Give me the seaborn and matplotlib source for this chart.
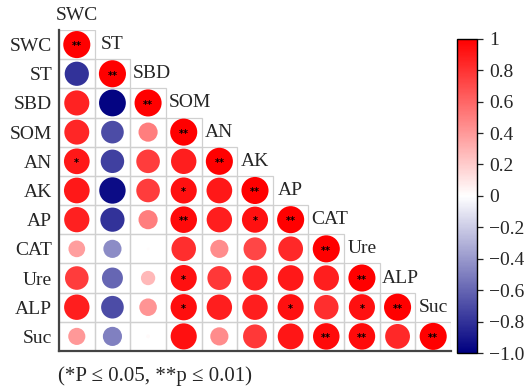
import numpy as np
import pandas as pd
import matplotlib
matplotlib.use("Agg")
import matplotlib.pyplot as plt
from matplotlib.colors import LinearSegmentedColormap, Normalize
from matplotlib.cm import ScalarMappable
from matplotlib.patches import Rectangle
import seaborn as sns

# Soil properties and enzyme activities
variables = ["SWC", "ST", "SBD", "SOM", "AN", "AK", "AP", "CAT", "Ure", "ALP", "Suc"]

# Lower-triangle correlation coefficients (row i holds columns 0..i)
r_SWC = [1.00]
r_ST = [-0.80, 1.00]
r_SBD = [0.86, -0.98, 1.00]
r_SOM = [0.85, -0.70, 0.50, 1.00]
r_AN = [0.90, -0.75, 0.76, 0.88, 1.00]
r_AK = [0.90, -0.95, 0.76, 0.93, 0.90, 1.00]
r_AP = [0.87, -0.80, 0.50, 0.96, 0.88, 0.93, 1.00]
r_CAT = [0.38, -0.45, 0.01, 0.82, 0.45, 0.72, 0.84, 1.00]
r_Ure = [0.76, -0.60, 0.28, 0.93, 0.78, 0.86, 0.90, 0.88, 1.00]
r_ALP = [0.88, -0.70, 0.42, 0.94, 0.88, 0.88, 0.93, 0.82, 0.93, 1.00]
r_Suc = [0.40, -0.50, 0.02, 0.93, 0.45, 0.78, 0.91, 0.96, 0.96, 0.84, 1.00]
corr_rows = [r_SWC, r_ST, r_SBD, r_SOM, r_AN, r_AK, r_AP, r_CAT, r_Ure, r_ALP, r_Suc]

# Significance marks (* P <= 0.05, ** P <= 0.01)
s_SWC = ["**"]
s_ST = ["", "**"]
s_SBD = ["", "", "**"]
s_SOM = ["", "", "", "**"]
s_AN = ["*", "", "", "", "**"]
s_AK = ["", "", "", "*", "", "**"]
s_AP = ["", "", "", "**", "", "*", "**"]
s_CAT = ["", "", "", "", "", "", "", "**"]
s_Ure = ["", "", "", "*", "", "", "", "", "**"]
s_ALP = ["", "", "", "*", "", "", "*", "", "*", "**"]
s_Suc = ["", "", "", "", "", "", "", "**", "**", "", "**"]
sig_rows = [s_SWC, s_ST, s_SBD, s_SOM, s_AN, s_AK, s_AP, s_CAT, s_Ure, s_ALP, s_Suc]

cbar_ticks = [1.0, 0.8, 0.6, 0.4, 0.2, 0.0, -0.2, -0.4, -0.6, -0.8, -1.0]
cbar_labels = ["1", "0.8", "0.6", "0.4", "0.2", "0", "\u22120.2", "\u22120.4",
               "\u22120.6", "\u22120.8", "\u22121.0"]

records = []
for i, (rv, sv) in enumerate(zip(corr_rows, sig_rows)):
    for j, (r, s) in enumerate(zip(rv, sv)):
        records.append({"row": i, "col": j, "r": r, "absr": abs(r), "sig": s})
df = pd.DataFrame(records)

sns.set_style("white")
plt.rcParams["font.family"] = ["Liberation Serif", "DejaVu Serif"]

cmap = LinearSegmentedColormap.from_list("navy_white_red", ["#000080", "#ffffff", "#ff0000"])
norm = Normalize(-1, 1)

fig = plt.figure(figsize=(5.28, 3.88), dpi=100)
ax = fig.add_axes([0.1117, 0.0954, 0.7425, 0.8273])

n = len(variables)

# Cell grid for the lower triangle
for i in range(n):
    for j in range(i + 1):
        ax.add_patch(Rectangle((j - 0.5, i - 0.5), 1, 1, fill=False,
                               edgecolor="#d0d0d0", linewidth=0.9, zorder=1))

sns.scatterplot(data=df, x="col", y="row", hue="r", palette=cmap, hue_norm=(-1, 1),
                size="absr", sizes=(0, 380), size_norm=(0, 1), linewidth=0,
                legend=False, ax=ax, zorder=3)

for _, rec in df.iterrows():
    if rec["sig"]:
        ax.text(rec["col"], rec["row"] + 0.06, rec["sig"], ha="center", va="center",
                fontsize=7, fontweight="bold", color="black", zorder=4,
                family=["DejaVu Sans"])

ax.set_xlim(-0.5, n - 0.5)
ax.set_ylim(n - 0.5, -0.5)

# Column labels sit just above the diagonal cell of each column: centred,
# but kept from spilling left of the cell when wider than it
fig.canvas.draw()
renderer = fig.canvas.get_renderer()
to_data = ax.transData.inverted()
for j, name in enumerate(variables):
    t = ax.text(j, j - 1, name, ha="center", va="center", fontsize=14, clip_on=False)
    if j > 0:
        bb = t.get_window_extent(renderer)
        x0 = to_data.transform((bb.x0, bb.y0))[0]
        min_left = j - 0.5 + 0.07
        if x0 < min_left:
            t.set_x(min_left)
            t.set_ha("left")

ax.set_xticks([])
ax.set_yticks(range(n))
ax.set_yticklabels(variables, fontsize=14)
ax.tick_params(axis="y", length=0, pad=5)
ax.set_xlabel("")
ax.set_ylabel("")
for side in ["top", "right"]:
    ax.spines[side].set_visible(False)
for side in ["left", "bottom"]:
    ax.spines[side].set_color("#444444")
    ax.spines[side].set_linewidth(1.6)

cax = fig.add_axes([0.8655, 0.0902, 0.038, 0.81])
cb = fig.colorbar(ScalarMappable(norm=norm, cmap=cmap), cax=cax)
cb.set_ticks(cbar_ticks)
cb.set_ticklabels(cbar_labels)
cb.outline.set_edgecolor("black")
cb.outline.set_linewidth(1.0)
cax.tick_params(labelsize=14, length=4.5, width=0.9, pad=4)

fig.text(0.294, 0.031, "(*P \u2264 0.05, **p \u2264 0.01)", ha="center", va="center",
         fontsize=15)

fig.savefig("out.png", dpi=100)
